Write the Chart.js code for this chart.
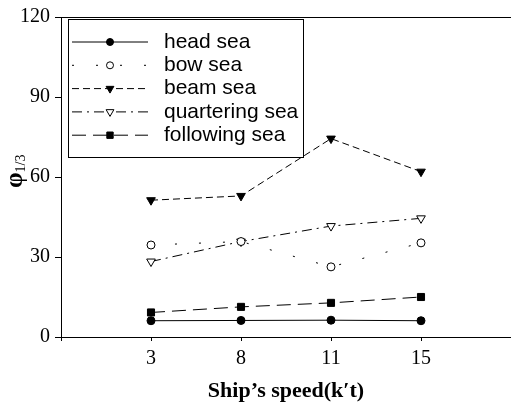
<!DOCTYPE html>
<html>
<head>
<meta charset="utf-8">
<script src="https://cdn.jsdelivr.net/npm/chart.js@4/dist/chart.umd.min.js"></script>
<style>
  html, body { margin: 0; padding: 0; background: #fff; }
  canvas { display: block; }
</style>
</head>
<body>
<canvas id="seaChart" width="511" height="405"></canvas>
<script>
const speedLabels = ["3", "8", "11", "15"];
const headSea = [6.1, 6.2, 6.3, 6.1];
const bowSea = [34.5, 35.8, 26.3, 35.3];
const beamSea = [51.3, 52.9, 74.4, 62.0];
const quarteringSea = [28.3, 35.8, 41.6, 44.5];
const followingSea = [9.2, 11.3, 12.8, 15.0];
const yTickStep = 30;

// points sit at 1..4 on a 0..5 axis
function toPoints(values) {
  return values.map((v, i) => ({ x: i + 1, y: v }));
}

function series(label, values, style) {
  return Object.assign({
    label: label,
    data: toPoints(values),
    borderColor: "#000",
    borderWidth: 1,
    pointBorderColor: "#000",
    pointBackgroundColor: "#000",
    pointBorderWidth: 1,
    pointRadius: 4,
    fill: false,
    tension: 0
  }, style);
}

const datasets = [
  series("head sea", headSea, { pointStyle: "circle", pointRadius: 4 }),
  series("bow sea", bowSea, { pointStyle: "circle", pointRadius: 4, pointBackgroundColor: "#fff", borderDash: [2, 22] }),
  series("beam sea", beamSea, { pointStyle: "triangle", pointRotation: 180, pointRadius: 5, borderDash: [7, 4] }),
  series("quartering sea", quarteringSea, { pointStyle: "triangle", pointRotation: 180, pointRadius: 5, pointBackgroundColor: "#fff", borderDash: [10, 5, 2, 5] }),
  series("following sea", followingSea, { pointStyle: "rect", pointRadius: 5, borderDash: [14, 7] })
];

const frameAndLegend = {
  id: "frameAndLegend",
  afterDraw(chart) {
    const ctx = chart.ctx;
    const area = chart.chartArea;
    ctx.save();
    ctx.strokeStyle = "#000";
    ctx.lineWidth = 1;
    // top frame line
    ctx.beginPath();
    ctx.moveTo(area.left, area.top + 0.5);
    ctx.lineTo(area.right, area.top + 0.5);
    ctx.stroke();

    // legend box
    const bx = 68, by = 19, bw = 235, bh = 138;
    ctx.fillStyle = "#fff";
    ctx.fillRect(bx, by, bw, bh);
    ctx.strokeRect(bx + 0.5, by + 0.5, bw, bh);
    chart.data.datasets.forEach((ds, i) => {
      const y = 42 + i * 23.3;
      ctx.save();
      ctx.setLineDash(ds.borderDash || []);
      ctx.beginPath();
      ctx.moveTo(72, y);
      ctx.lineTo(148, y);
      ctx.stroke();
      ctx.restore();
      ctx.fillStyle = ds.pointBackgroundColor;
      ctx.strokeStyle = ds.pointBorderColor;
      Chart.helpers.drawPoint(ctx, {
        pointStyle: ds.pointStyle,
        rotation: ds.pointRotation || 0,
        radius: ds.pointRadius - 0.5,
        borderWidth: 1
      }, 110, y);
      ctx.fillStyle = "#000";
      ctx.font = "21px 'Liberation Sans', Arial, sans-serif";
      ctx.textAlign = "left";
      ctx.textBaseline = "middle";
      ctx.fillText(ds.label, 164, y);
    });

    // y axis title: phi with subscript 1/3
    ctx.translate(16, 188);
    ctx.rotate(-Math.PI / 2);
    ctx.fillStyle = "#000";
    ctx.textAlign = "left";
    ctx.textBaseline = "middle";
    ctx.font = "bold 25px 'Liberation Serif', 'Times New Roman', serif";
    ctx.fillText("\u03c6", 0, 0);
    const w = ctx.measureText("\u03c6").width;
    ctx.font = "14px 'Liberation Serif', 'Times New Roman', serif";
    ctx.fillText("1/3", w, 5);
    ctx.restore();
  }
};

const ctx = document.getElementById("seaChart");
const seaChart = new Chart(ctx, {
  type: "line",
  data: { datasets: datasets },
  options: {
    responsive: false,
    animation: false,
    layout: { autoPadding: false, padding: { top: 15, right: 0, left: 0, bottom: 0 } },
    plugins: {
      legend: { display: false },
      tooltip: { enabled: false }
    },
    scales: {
      x: {
        type: "linear",
        min: 0,
        max: speedLabels.length + 1,
        afterBuildTicks: (scale) => {
          scale.ticks = [];
          for (let i = 0; i <= speedLabels.length + 1; i++) scale.ticks.push({ value: i });
        },
        afterFit: (scale) => {
          scale.height = 68;
          scale.paddingLeft = 0;
          scale.paddingRight = 0;
        },
        ticks: {
          callback: (v) => speedLabels[v - 1] ?? "",
          color: "#000",
          font: { family: "'Liberation Serif', 'Times New Roman', serif", size: 20 },
          padding: 6,
          maxRotation: 0,
          autoSkip: false
        },
        grid: { drawOnChartArea: false, tickLength: 4, color: "#000" },
        border: { color: "#000", width: 1 },
        title: {
          display: true,
          text: "Ship\u2019s speed(k\u2032t)",
          color: "#000",
          font: { family: "'Liberation Serif', 'Times New Roman', serif", size: 22, weight: "bold" },
          padding: { top: 0, bottom: 0 }
        }
      },
      y: {
        min: 0,
        max: 120,
        afterFit: (scale) => { scale.width = 61; },
        ticks: {
          stepSize: yTickStep,
          color: "#000",
          font: { family: "'Liberation Serif', 'Times New Roman', serif", size: 20 },
          padding: 5
        },
        grid: { drawOnChartArea: false, tickLength: 6, color: "#000" },
        border: { color: "#000", width: 1 }
      }
    }
  },
  plugins: [frameAndLegend]
});
</script>
</body>
</html>
